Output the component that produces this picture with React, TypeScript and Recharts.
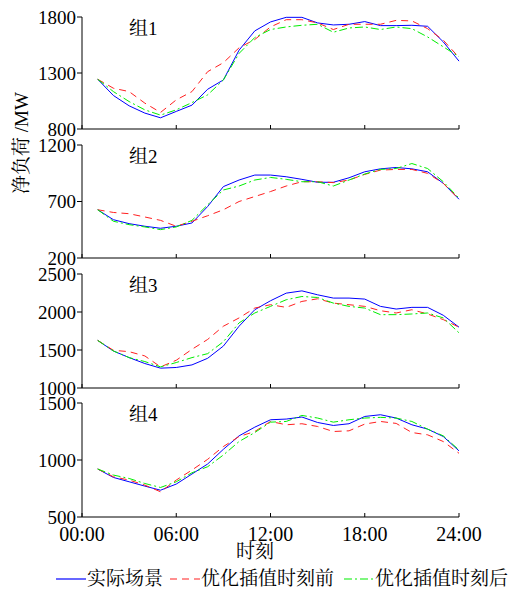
import React from 'react'
import { LineChart, Line, XAxis, YAxis } from 'recharts'

const hours = [1, 2, 3, 4, 5, 6, 7, 8, 9, 10, 11, 12, 13, 14, 15, 16, 17, 18, 19, 20, 21, 22, 23, 24]
const xTicks = [0, 6, 12, 18, 24]
const xTickLabels = ['00:00', '06:00', '12:00', '18:00', '24:00']

const group1Actual = [1244, 1099, 1007, 942, 900, 957, 1013, 1155, 1238, 1504, 1676, 1756, 1797, 1797, 1747, 1729, 1735, 1759, 1723, 1723, 1726, 1717, 1578, 1406]
const group1Before = [1244, 1164, 1134, 1031, 948, 1060, 1134, 1312, 1392, 1525, 1599, 1711, 1776, 1776, 1747, 1688, 1735, 1735, 1735, 1770, 1765, 1696, 1593, 1439]
const group1After = [1244, 1134, 1045, 971, 924, 971, 1036, 1105, 1238, 1475, 1617, 1688, 1711, 1726, 1735, 1664, 1702, 1711, 1688, 1711, 1696, 1622, 1534, 1445]

const group2Actual = [627, 539, 504, 481, 463, 481, 510, 656, 832, 890, 934, 934, 919, 896, 870, 870, 910, 963, 989, 1001, 989, 963, 861, 720]
const group2Before = [627, 603, 592, 563, 533, 481, 525, 574, 627, 700, 744, 788, 837, 875, 875, 867, 890, 940, 978, 984, 984, 949, 861, 720]
const group2After = [627, 525, 495, 475, 451, 475, 533, 671, 802, 837, 890, 913, 896, 875, 875, 837, 890, 943, 984, 992, 1036, 992, 875, 729]

const group3Actual = [1626, 1487, 1400, 1322, 1261, 1270, 1304, 1391, 1552, 1813, 2030, 2148, 2248, 2278, 2226, 2183, 2183, 2170, 2074, 2039, 2061, 2061, 1957, 1800]
const group3Before = [1626, 1496, 1478, 1422, 1278, 1365, 1509, 1639, 1813, 1922, 2052, 2096, 2061, 2139, 2174, 2117, 2096, 2074, 2017, 1987, 2030, 1974, 1900, 1800]
const group3After = [1626, 1487, 1400, 1348, 1278, 1335, 1400, 1452, 1609, 1857, 1987, 2074, 2161, 2204, 2191, 2117, 2074, 2052, 1965, 1965, 1974, 1987, 1922, 1726]

const group4Actual = [921, 847, 809, 771, 735, 789, 877, 965, 1094, 1212, 1288, 1353, 1359, 1377, 1329, 1303, 1318, 1382, 1397, 1368, 1309, 1271, 1206, 1080]
const group4Before = [921, 853, 824, 780, 721, 824, 912, 1006, 1118, 1206, 1250, 1338, 1309, 1318, 1294, 1250, 1256, 1315, 1338, 1321, 1241, 1221, 1162, 1059]
const group4After = [921, 868, 838, 794, 759, 809, 888, 941, 1044, 1162, 1241, 1332, 1338, 1391, 1368, 1332, 1353, 1368, 1374, 1368, 1338, 1271, 1212, 1088]

const seriesNames = ['实际场景', '优化插值时刻前', '优化插值时刻后']

// Times-like digits, CJK from the serif Noto face
const FONT = "'Liberation Serif', 'Noto Serif CJK SC', serif"
const BLUE = '#0000ff'
const RED = '#ff2020'
const GREEN = '#00ee00'
const RED_DASH = '7 5'
const GREEN_DASH = '8 3 2 3'

function buildRows(a: number[], b: number[], c: number[]) {
  return hours.map((h, i) => ({ h, actual: a[i], before: b[i], after: c[i] }))
}

const panels = [
  { label: '组1', rows: buildRows(group1Actual, group1Before, group1After), domain: [800, 1800], ticks: [800, 1300, 1800], top: 17, bottom: 129 },
  { label: '组2', rows: buildRows(group2Actual, group2Before, group2After), domain: [200, 1200], ticks: [200, 700, 1200], top: 145, bottom: 258 },
  { label: '组3', rows: buildRows(group3Actual, group3Before, group3After), domain: [1000, 2500], ticks: [1000, 1500, 2000, 2500], top: 274, bottom: 388 },
  { label: '组4', rows: buildRows(group4Actual, group4Before, group4After), domain: [500, 1500], ticks: [500, 1000, 1500], top: 403, bottom: 517 },
]

const PAD_TOP = 12
const PAD_BOTTOM = 34

function XTick(props: any) {
  const { x, y, payload, showLabel } = props
  const idx = xTicks.indexOf(payload.value)
  return (
    <g>
      <line x1={x} y1={y} x2={x} y2={y - 4} stroke="#000" strokeWidth={1} />
      {showLabel && (
        <text x={x} y={y + 24} textAnchor="middle" fontSize={20} fill="#000" style={{ fontFamily: FONT }}>
          {xTickLabels[idx]}
        </text>
      )}
    </g>
  )
}

function Panel({ p, last }: { p: (typeof panels)[number]; last: boolean }) {
  const plotH = p.bottom - p.top
  return (
    <div style={{ position: 'absolute', left: 0, top: p.top - PAD_TOP }}>
      <LineChart
        width={510}
        height={plotH + PAD_TOP + PAD_BOTTOM}
        data={p.rows}
        margin={{ top: PAD_TOP, right: 51, left: 0, bottom: PAD_BOTTOM - 20 }}
        style={{ fontFamily: FONT }}
      >
        <XAxis
          dataKey="h"
          type="number"
          domain={[0, 24]}
          ticks={xTicks}
          height={20}
          tickSize={0}
          tickMargin={0}
          tickLine={false}
          axisLine={{ stroke: '#000' }}
          tick={(tp: any) => <XTick {...tp} showLabel={last} />}
          interval={0}
        />
        <YAxis
          domain={p.domain}
          ticks={p.ticks}
          width={82}
          interval={0}
          tickSize={5}
          tickMargin={1}
          axisLine={{ stroke: '#000' }}
          tickLine={{ stroke: '#000' }}
          tick={{ fill: '#000', fontSize: 19, style: { fontFamily: FONT } }}
        />
        <Line dataKey="actual" stroke={BLUE} strokeWidth={1} dot={false} isAnimationActive={false} />
        <Line dataKey="before" stroke={RED} strokeWidth={1} strokeDasharray={RED_DASH} dot={false} isAnimationActive={false} />
        <Line dataKey="after" stroke={GREEN} strokeWidth={1} strokeDasharray={GREEN_DASH} dot={false} isAnimationActive={false} />
      </LineChart>
      <div
        style={{
          position: 'absolute',
          left: 129,
          top: PAD_TOP + 1,
          fontSize: 19,
          lineHeight: '22px',
          fontFamily: FONT,
          color: '#000',
        }}
      >
        {p.label}
      </div>
    </div>
  )
}

function LegendSample({ color, dash }: { color: string; dash?: string }) {
  return (
    <svg width={30} height={10} style={{ display: 'block' }}>
      <line x1={0} y1={5} x2={30} y2={5} stroke={color} strokeWidth={1.2} strokeDasharray={dash} />
    </svg>
  )
}

export default function App() {
  const colors = [BLUE, RED, GREEN]
  const dashes = [undefined, RED_DASH, GREEN_DASH]
  const legendLeft = [56, 170, 344]
  return (
    <div
      style={{
        position: 'absolute',
        left: 0,
        top: 0,
        width: 510,
        height: 589,
        overflow: 'hidden',
        background: '#fff',
        fontFamily: FONT,
      }}
    >
      {panels.map((p, i) => (
        <Panel key={p.label} p={p} last={i === panels.length - 1} />
      ))}
      <div
        style={{
          position: 'absolute',
          left: 22,
          top: 143,
          transform: 'translate(-50%, -50%) rotate(-90deg)',
          whiteSpace: 'nowrap',
          fontSize: 19,
          lineHeight: '22px',
          color: '#000',
        }}
      >
        净负荷 /MW
      </div>
      <div
        style={{
          position: 'absolute',
          left: 255,
          top: 552,
          transform: 'translate(-50%, -50%)',
          fontSize: 19,
          lineHeight: '22px',
          color: '#000',
        }}
      >
        时刻
      </div>
      {seriesNames.map((name, i) => (
        <div
          key={name}
          style={{
            position: 'absolute',
            left: legendLeft[i],
            top: 568,
            height: 22,
            display: 'flex',
            alignItems: 'center',
            whiteSpace: 'nowrap',
            fontSize: 19,
            lineHeight: '22px',
            color: '#000',
          }}
        >
          <LegendSample color={colors[i]} dash={dashes[i]} />
          <span style={{ marginLeft: 1 }}>{name}</span>
        </div>
      ))}
    </div>
  )
}
